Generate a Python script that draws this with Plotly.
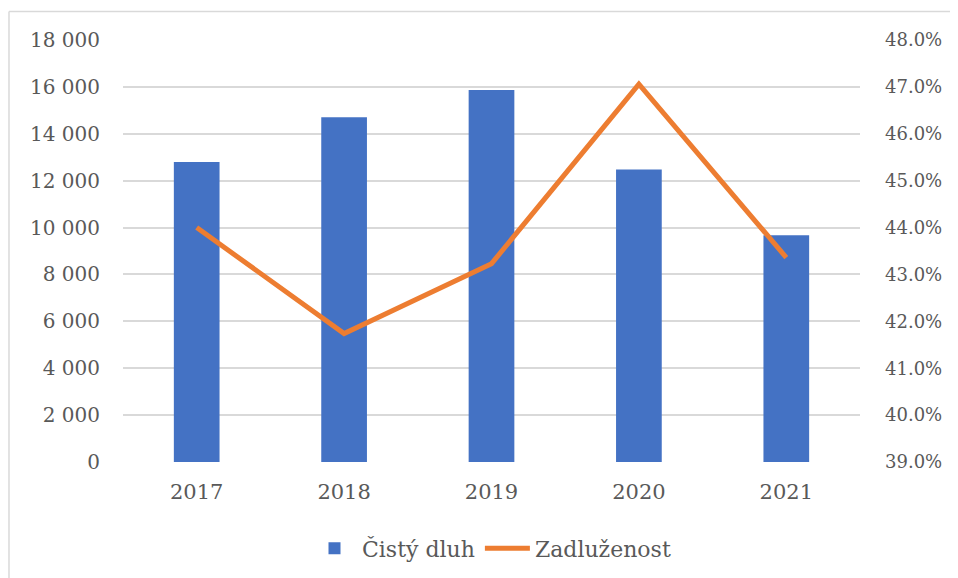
import plotly.graph_objects as go

years = ["2017", "2018", "2019", "2020", "2021"]
cisty_dluh = [12800, 14700, 15870, 12480, 9670]
zadluzenost = [0.440, 0.4174, 0.4323, 0.4706, 0.4336]

left_ticks = [0, 2000, 4000, 6000, 8000, 10000, 12000, 14000, 16000, 18000]
right_ticks = [0.39, 0.40, 0.41, 0.42, 0.43, 0.44, 0.45, 0.46, 0.47, 0.48]

FONT = "DejaVu Serif"
TICK_COLOR = "#595959"

fig = go.Figure()
fig.add_trace(go.Bar(
    x=years, y=cisty_dluh, name="Čistý dluh",
    marker=dict(color="#4472C4", line=dict(width=0)),
    yaxis="y",
))
fig.add_trace(go.Scatter(
    x=years, y=zadluzenost, name="Zadluženost", mode="lines",
    line=dict(color="#ED7D31", width=5),
    yaxis="y2",
))

fig.update_layout(
    width=958, height=578,
    margin=dict(l=115, r=106, t=32, b=124),
    paper_bgcolor="white", plot_bgcolor="white",
    separators=". ",
    font=dict(family=FONT, size=21, color=TICK_COLOR),
    bargap=0.69,
    showlegend=True,
    legend=dict(
        orientation="h", x=0.5, xanchor="center", y=-0.205, yanchor="middle",
        font=dict(family=FONT, size=22, color=TICK_COLOR),
        itemwidth=45, traceorder="normal",
    ),
    xaxis=dict(
        showgrid=False, showline=False, zeroline=False,
        tickfont=dict(family=FONT, size=21, color=TICK_COLOR),
        ticks="", ticklabelstandoff=15,
    ),
    yaxis=dict(
        range=[0, 18000], tickvals=left_ticks, tickformat=",d",
        showgrid=True, gridcolor="#d9d9d9", gridwidth=1.5,
        zeroline=False, showline=False, ticks="",
        tickfont=dict(family=FONT, size=20, color=TICK_COLOR),
        ticklabelstandoff=22,
    ),
    yaxis2=dict(
        range=[0.39, 0.48], tickvals=right_ticks, tickformat=".1%",
        overlaying="y", side="right",
        showgrid=False, zeroline=False, showline=False, ticks="",
        tickfont=dict(family=FONT, size=18, color=TICK_COLOR),
        ticklabelstandoff=24,
    ),
    shapes=[
        dict(type="line", xref="paper", yref="paper",
             x0=-0.1547, x1=-0.1547, y0=-0.5, y1=1.0674,
             line=dict(color="#d9d9d9", width=1.5)),
        dict(type="line", xref="paper", yref="paper",
             x0=-0.1547, x1=1.5, y0=1.0674, y1=1.0674,
             line=dict(color="#d9d9d9", width=1.5)),
    ],
)

fig.write_html("out.html")
